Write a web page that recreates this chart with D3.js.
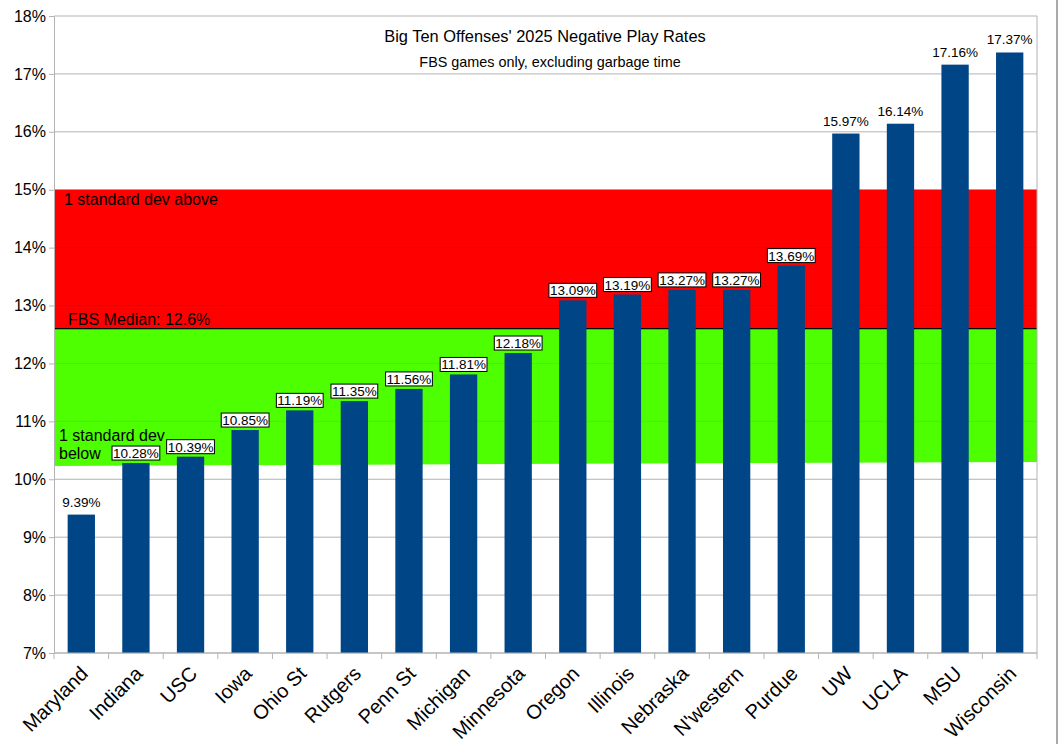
<!DOCTYPE html>
<html>
<head>
<meta charset="utf-8">
<script src="https://cdn.jsdelivr.net/npm/d3@7"></script>
<style>
  body { margin:0; background:#fff; }
  text { font-family: "Liberation Sans", Arial, sans-serif; }
</style>
</head>
<body>
<div id="vis"></div>
<script>
// data
var teams = ["Maryland","Indiana","USC","Iowa","Ohio St","Rutgers","Penn St","Michigan","Minnesota",
             "Oregon","Illinois","Nebraska","N'western","Purdue","UW","UCLA","MSU","Wisconsin"];
var rates = [9.39,10.28,10.39,10.85,11.19,11.35,11.56,11.81,12.18,
             13.09,13.19,13.27,13.27,13.69,15.97,16.14,17.16,17.37];
var yTicks = [7,8,9,10,11,12,13,14,15,16,17,18];
var fbsMedian = 12.6;
var sdAbove = 15.0;
var sdBelow = [10.23, 10.30];   // lower edge of green band, left -> right

var W = 1059, H = 744;
var plotL = 54, plotR = 1037, plotT = 16, plotB = 653;

var svg = d3.select("#vis").append("svg").attr("width", W).attr("height", H);

var x = d3.scaleBand().domain(teams).range([plotL, plotR]).paddingInner(0.5).paddingOuter(0.25);
var y = d3.scaleLinear().domain([7, 18]).range([plotB, plotT]);

// grid
svg.append("g").selectAll("line").data(yTicks).enter().append("line")
  .attr("x1", plotL).attr("x2", plotR)
  .attr("y1", function(d){ return y(d); }).attr("y2", function(d){ return y(d); })
  .style("stroke", "#b3b3b3").style("stroke-width", 1);

// bands
svg.append("rect").attr("x", plotL).attr("width", plotR - plotL)
  .attr("y", y(sdAbove)).attr("height", y(fbsMedian) - y(sdAbove))
  .style("fill", "#ff0000");
svg.append("path")
  .attr("d", "M" + plotL + "," + y(fbsMedian) + "L" + plotR + "," + y(fbsMedian)
      + "L" + plotR + "," + y(sdBelow[1]) + "L" + plotL + "," + y(sdBelow[0]) + "Z")
  .style("fill", "#4dff00");
// faint grid through the bands
svg.append("g").selectAll("line").data(yTicks.filter(function(d){ return d > 10 && d < 15; }))
  .enter().append("line")
  .attr("x1", plotL).attr("x2", plotR)
  .attr("y1", function(d){ return y(d); }).attr("y2", function(d){ return y(d); })
  .style("stroke", "#000").style("stroke-opacity", 0.06);
svg.append("line").attr("x1", plotL).attr("x2", plotR)
  .attr("y1", y(fbsMedian)).attr("y2", y(fbsMedian))
  .style("stroke", "#000").style("stroke-width", 1.3);

// band notes
svg.append("text").attr("x", 64).attr("y", 205).style("font-size", "16px").text("1 standard dev above");
svg.append("text").attr("x", 68).attr("y", 325).style("font-size", "16px").text("FBS Median: 12.6%");
svg.append("text").attr("x", 59).attr("y", 441).style("font-size", "16px").text("1 standard dev");
svg.append("text").attr("x", 59).attr("y", 459).style("font-size", "16px").text("below");

// bars
svg.append("g").selectAll("rect").data(teams).enter().append("rect")
  .attr("x", function(d){ return x(d); })
  .attr("width", x.bandwidth())
  .attr("y", function(d,i){ return y(rates[i]); })
  .attr("height", function(d,i){ return plotB - y(rates[i]); })
  .style("fill", "#004586");

// value labels
var lab = svg.append("g").selectAll("g").data(teams).enter().append("g")
  .attr("transform", function(d,i){ return "translate(" + (x(d) + x.bandwidth()/2) + "," + (y(rates[i]) - 8) + ")"; });
lab.each(function(d,i){
  var g = d3.select(this);
  var boxed = rates[i] > 10.25 && rates[i] < 15;
  var t = g.append("text").attr("text-anchor", "middle").style("font-size", "13.5px")
    .attr("y", boxed ? 3 : 0)
    .text(rates[i].toFixed(2) + "%");
  if (boxed) {
    var b = t.node().getBBox();
    g.insert("rect", "text").attr("x", b.x - 1).attr("y", b.y).attr("width", b.width + 2).attr("height", b.height - 1)
      .style("fill", "#fff").style("stroke", "#000").style("stroke-width", 1);
  }
});

// axes
var yAxis = svg.append("g").attr("transform", "translate(" + plotL + ",0)")
  .call(d3.axisLeft(y).tickValues(yTicks).tickSize(5).tickFormat(function(d){ return d + "%"; }));
yAxis.select(".domain").style("stroke", "#b3b3b3");
yAxis.selectAll(".tick line").style("stroke", "#b3b3b3");
yAxis.selectAll(".tick text").style("font-size", "16px").style("fill", "#000")
  .style("font-family", "Liberation Sans, Arial, sans-serif").attr("x", -8);

var bnds = d3.range(teams.length + 1).map(function(i){ return plotL + i * (plotR - plotL) / teams.length; });
svg.append("line").attr("x1", plotL).attr("x2", plotR).attr("y1", plotB).attr("y2", plotB).style("stroke", "#b3b3b3");
svg.append("g").selectAll("line").data(bnds).enter().append("line")
  .attr("x1", function(d){ return d; }).attr("x2", function(d){ return d; })
  .attr("y1", plotB).attr("y2", plotB + 6).style("stroke", "#b3b3b3");
svg.append("line").attr("x1", plotR).attr("x2", plotR).attr("y1", plotT).attr("y2", plotB).style("stroke", "#b3b3b3");

svg.append("g").selectAll("text").data(teams).enter().append("text")
  .attr("transform", function(d){ return "translate(" + (x(d) + x.bandwidth()/2 - 2) + "," + 665 + ") rotate(-45)"; })
  .attr("text-anchor", "end").attr("dy", "0.7em")
  .style("font-size", "20px")
  .text(function(d){ return d; });

// title
svg.append("text").attr("x", 545).attr("y", 42).attr("text-anchor", "middle").style("font-size", "16.4px")
  .text("Big Ten Offenses' 2025 Negative Play Rates");
svg.append("text").attr("x", 550).attr("y", 67).attr("text-anchor", "middle").style("font-size", "14.4px")
  .text("FBS games only, excluding garbage time");

// frame edge
svg.append("line").attr("x1", 1057).attr("x2", 1057).attr("y1", 0).attr("y2", H).style("stroke", "#555");
</script>
</body>
</html>
